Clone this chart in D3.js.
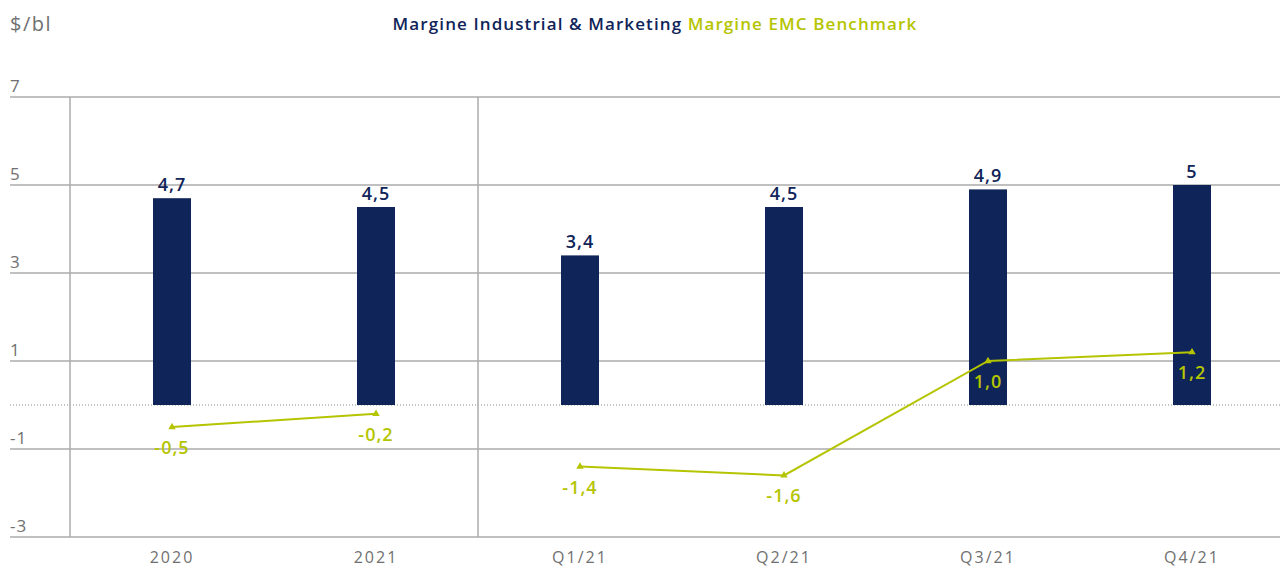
<!DOCTYPE html>
<html>
<head>
<meta charset="utf-8">
<script src="https://cdn.jsdelivr.net/npm/d3@7"></script>
<style>
  html, body { margin: 0; padding: 0; background: #fff; }
  svg { display: block; font-family: "Open Sans", sans-serif; }
</style>
</head>
<body>
<div id="chart"></div>
<script>
const CATEGORIES = ["2020", "2021", "Q1/21", "Q2/21", "Q3/21", "Q4/21"];
const MARGIN_IM = [4.7, 4.5, 3.4, 4.5, 4.9, 5];
const MARGIN_EMC = [-0.5, -0.2, -1.4, -1.6, 1.0, 1.2];
const Y_TICKS = [7, 5, 3, 1, -1, -3];
const SERIES_NAMES = ["Margine Industrial & Marketing", "Margine EMC Benchmark"];

const NAVY = "#0f2459";
const LIME = "#b5c400";
const GRID = "#ababab";
const TEXT = "#707070";

const width = 1280;
const height = 568;

function fmt(v) {
  return Number.isInteger(v) && Math.abs(v) >= 2 ? String(v) : v.toFixed(1).replace(".", ",");
}

const svg = d3.select("#chart")
  .append("svg")
  .attr("width", width)
  .attr("height", height);

const x = d3.scaleBand()
  .domain(CATEGORIES)
  .range([70, 1294]);

const y = d3.scaleLinear()
  .domain([-3, 7])
  .range([537, 97]);

const barWidth = 38;
const cx = (d) => x(d) + x.bandwidth() / 2;

// horizontal grid lines and labels
const grid = svg.append("g");
grid.selectAll("line")
  .data(Y_TICKS)
  .join("line")
  .attr("x1", 10)
  .attr("x2", width)
  .attr("y1", (d) => y(d))
  .attr("y2", (d) => y(d))
  .attr("stroke", GRID)
  .attr("stroke-width", 1.5);

grid.selectAll("text")
  .data(Y_TICKS)
  .join("text")
  .attr("x", 10)
  .attr("y", (d) => y(d) - 5)
  .attr("fill", TEXT)
  .attr("font-size", 17)
  .attr("letter-spacing", 1)
  .text((d) => d);

// zero line (dotted)
svg.append("line")
  .attr("x1", 10)
  .attr("x2", width)
  .attr("y1", y(0))
  .attr("y2", y(0))
  .attr("stroke", "#888")
  .attr("stroke-width", 1)
  .attr("stroke-dasharray", "1,2");

// vertical separators
svg.append("g")
  .selectAll("line")
  .data([CATEGORIES[0], CATEGORIES[2]])
  .join("line")
  .attr("x1", (d) => x(d))
  .attr("x2", (d) => x(d))
  .attr("y1", y(7))
  .attr("y2", y(-3))
  .attr("stroke", GRID)
  .attr("stroke-width", 1.5);

// bars
svg.append("g")
  .selectAll("rect")
  .data(CATEGORIES)
  .join("rect")
  .attr("x", (d) => cx(d) - barWidth / 2)
  .attr("width", barWidth)
  .attr("y", (d, i) => y(MARGIN_IM[i]))
  .attr("height", (d, i) => y(0) - y(MARGIN_IM[i]))
  .attr("fill", NAVY);

svg.append("g")
  .selectAll("text")
  .data(CATEGORIES)
  .join("text")
  .attr("x", (d) => cx(d))
  .attr("y", (d, i) => y(MARGIN_IM[i]) - 7)
  .attr("text-anchor", "middle")
  .attr("fill", NAVY)
  .attr("font-size", 18)
  .attr("font-weight", 600)
  .attr("letter-spacing", 1)
  .text((d, i) => fmt(MARGIN_IM[i]));

// line series (two segments: annual and quarterly)
const line = d3.line()
  .x((d) => cx(d))
  .y((d) => y(MARGIN_EMC[CATEGORIES.indexOf(d)]));

const groups = [CATEGORIES.slice(0, 2), CATEGORIES.slice(2)];
svg.append("g")
  .selectAll("path")
  .data(groups)
  .join("path")
  .attr("d", (g) => line(g))
  .attr("fill", "none")
  .attr("stroke", LIME)
  .attr("stroke-width", 2);

svg.append("g")
  .selectAll("path")
  .data(CATEGORIES)
  .join("path")
  .attr("transform", (d, i) => `translate(${cx(d)},${y(MARGIN_EMC[i])})`)
  .attr("d", d3.symbol(d3.symbolTriangle, 24))
  .attr("fill", LIME);

svg.append("g")
  .selectAll("text")
  .data(CATEGORIES)
  .join("text")
  .attr("x", (d) => cx(d))
  .attr("y", (d, i) => y(MARGIN_EMC[i]) + 27)
  .attr("text-anchor", "middle")
  .attr("fill", LIME)
  .attr("font-size", 18)
  .attr("font-weight", 600)
  .attr("letter-spacing", 1)
  .text((d, i) => fmt(MARGIN_EMC[i]));

// x axis labels
svg.append("g")
  .selectAll("text")
  .data(CATEGORIES)
  .join("text")
  .attr("x", (d) => cx(d))
  .attr("y", 563)
  .attr("text-anchor", "middle")
  .attr("fill", TEXT)
  .attr("font-size", 16)
  .attr("letter-spacing", 2)
  .text((d) => d);

// unit label
svg.append("text")
  .attr("x", 10)
  .attr("y", 31)
  .attr("fill", TEXT)
  .attr("font-size", 20)
  .attr("letter-spacing", 1.5)
  .text("$/bl");

// legend
const legend = svg.append("text")
  .attr("x", 655)
  .attr("y", 30)
  .attr("text-anchor", "middle")
  .attr("font-size", 17)
  .attr("font-weight", 600)
  .attr("letter-spacing", 1.1);
legend.append("tspan").attr("fill", NAVY).text(SERIES_NAMES[0] + " ");
legend.append("tspan").attr("fill", LIME).text(SERIES_NAMES[1]);
</script>
</body>
</html>
